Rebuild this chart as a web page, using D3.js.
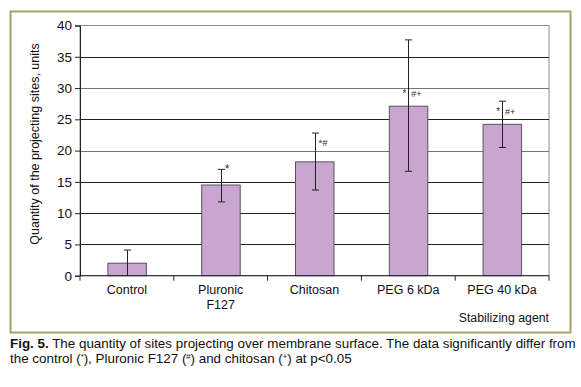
<!DOCTYPE html>
<html>
<head>
<meta charset="utf-8">
<script src="https://cdn.jsdelivr.net/npm/d3@7.9.0/dist/d3.min.js"></script>
<style>
  body { margin: 0; background: #fff; }
  svg { display: block; font-family: "Liberation Sans", Arial, sans-serif; }
</style>
</head>
<body>
<svg id="chart" width="581" height="387"></svg>
<script>
const categories = [["Control"], ["Pluronic", "F127"], ["Chitosan"], ["PEG 6 kDa"], ["PEG 40 kDa"]];
const values = [2.0, 14.5, 18.2, 27.1, 24.2];
const errLow = [2.1, 2.7, 4.5, 10.4, 3.7];
const errHigh = [2.1, 2.5, 4.6, 10.6, 3.7];
const marks = [["", ""], ["*", ""], ["*#", ""], ["*", "#+"], ["*", "#+"]];
const yTicks = [0, 5, 10, 15, 20, 25, 30, 35, 40];

const svg = d3.select('#chart');
const plot = { left: 80, right: 549, top: 25.5, bottom: 275.7 };

// outer frame
svg.append('rect')
    .attr('x', 10.5).attr('y', 11.5)
    .attr('width', 560).attr('height', 321)
    .attr('fill', 'none')
    .attr('stroke', '#a89f68')
    .attr('stroke-width', 2);

const step = (plot.right - plot.left) / categories.length;

const y = d3.scaleLinear()
    .domain([0, 40])
    .range([plot.bottom, plot.top]);

// plot border (top/right grey)
svg.append('rect')
    .attr('x', plot.left).attr('y', plot.top)
    .attr('width', plot.right - plot.left).attr('height', plot.bottom - plot.top)
    .attr('fill', 'none').attr('stroke', '#8a8a8a').attr('stroke-width', 1);

// gridlines
svg.append('g')
    .selectAll('line')
    .data(yTicks.filter(t => t > 0 && t < 40))
    .join('line')
    .attr('x1', plot.left).attr('x2', plot.right)
    .attr('y1', d => Math.round(y(d)) + 0.5).attr('y2', d => Math.round(y(d)) + 0.5)
    .attr('stroke', d => (d === 20 || d === 30) ? '#777' : '#222')
    .attr('stroke-width', 1);

// y axis
const yAxis = svg.append('g')
    .attr('transform', `translate(${plot.left},0)`)
    .call(d3.axisLeft(y).tickValues(yTicks).tickSize(5).tickPadding(3));
yAxis.select('.domain').attr('stroke', '#222');
yAxis.selectAll('.tick line').attr('stroke', '#222');
yAxis.selectAll('.tick text')
    .attr('font-size', 13.5).attr('fill', '#111')
    .attr('font-family', '"Liberation Sans", Arial, sans-serif');

// bars
svg.append('g')
    .selectAll('rect')
    .data(values)
    .join('rect')
    .attr('x', (d, i) => plot.left + step * (i + 0.5) - 19)
    .attr('y', d => y(d))
    .attr('width', 38.5)
    .attr('height', d => y(0) - y(d))
    .attr('fill', '#c9a6cf')
    .attr('stroke', '#5a5060')
    .attr('stroke-width', 1);

// x axis
svg.append('line')
    .attr('x1', plot.left).attr('x2', plot.right)
    .attr('y1', plot.bottom).attr('y2', plot.bottom)
    .attr('stroke', '#222');
svg.append('g')
    .selectAll('line')
    .data(d3.range(categories.length + 1))
    .join('line')
    .attr('x1', i => plot.left + step * i).attr('x2', i => plot.left + step * i)
    .attr('y1', plot.bottom).attr('y2', plot.bottom + 5)
    .attr('stroke', '#222');

const xLabels = svg.append('g')
    .selectAll('text')
    .data(categories)
    .join('text')
    .attr('x', (d, i) => plot.left + step * (i + 0.5))
    .attr('y', 294)
    .attr('text-anchor', 'middle')
    .attr('font-size', 12.5)
    .attr('fill', '#111');
xLabels.each(function (d, i) {
    d3.select(this).selectAll('tspan')
        .data(d)
        .join('tspan')
        .attr('x', plot.left + step * (i + 0.5))
        .attr('dy', (t, j) => j === 0 ? 0 : 15)
        .text(t => t);
});

// error bars
const eb = svg.append('g').attr('stroke', '#222').attr('stroke-width', 1);
values.forEach((v, i) => {
    const cx = Math.round(plot.left + step * (i + 0.5)) + 0.5;
    const lo = Math.max(0, v - errLow[i]);
    const hi = v + errHigh[i];
    eb.append('line').attr('x1', cx).attr('x2', cx).attr('y1', y(lo)).attr('y2', y(hi));
    eb.append('line').attr('x1', cx - 3.5).attr('x2', cx + 3.5).attr('y1', y(hi)).attr('y2', y(hi));
    if (v - errLow[i] > 0) {
        eb.append('line').attr('x1', cx - 3.5).attr('x2', cx + 3.5).attr('y1', y(lo)).attr('y2', y(lo));
    }
});

// significance marks
values.forEach((v, i) => {
    const cx = plot.left + step * (i + 0.5);
    const hi = v + errHigh[i];
    const [left, right] = marks[i];
    let ty;
    if (i === 1) ty = y(hi) + 4;
    else if (i === 2) ty = y(v) - 16;
    else ty = y(v) - 9;
    if (i === 1 || i === 2) {
        svg.append('text').attr('x', cx + 4).attr('y', ty)
            .attr('font-size', i === 1 ? 12 : 9.5).attr('fill', '#333').text(left);
    } else if (left) {
        svg.append('text').attr('x', cx - 2).attr('y', ty).attr('text-anchor', 'end')
            .attr('font-size', 10).attr('fill', '#333').text(left);
        svg.append('text').attr('x', cx + 3).attr('y', ty)
            .attr('font-size', 9).attr('fill', '#333').text(right);
    }
});

// axis titles
svg.append('text')
    .attr('transform', 'translate(39,144) rotate(-90)')
    .attr('text-anchor', 'middle')
    .attr('font-size', 12.5)
    .attr('fill', '#111')
    .text('Quantity of the projecting sites, units');

svg.append('text')
    .attr('x', 549).attr('y', 322)
    .attr('text-anchor', 'end')
    .attr('font-size', 12.3)
    .attr('fill', '#111')
    .text('Stabilizing agent');

// caption
const cap1 = svg.append('text').attr('x', 10).attr('y', 348).attr('font-size', 13.4).attr('fill', '#111');
cap1.append('tspan').attr('font-weight', 'bold').text('Fig. 5.');
cap1.append('tspan').text(' The quantity of sites projecting over membrane surface. The data significantly differ from');

const cap2 = svg.append('text').attr('x', 10).attr('y', 363).attr('font-size', 13.4).attr('fill', '#111');
cap2.append('tspan').text('the control (');
cap2.append('tspan').attr('font-size', 7.5).attr('dy', -4).text('*');
cap2.append('tspan').attr('dy', 4).text('), Pluronic F127 (');
cap2.append('tspan').attr('font-size', 7.5).attr('dy', -4).text('#');
cap2.append('tspan').attr('dy', 4).text(') and chitosan (');
cap2.append('tspan').attr('font-size', 7.5).attr('dy', -4).text('+');
cap2.append('tspan').attr('dy', 4).text(') at p<0.05');
</script>
</body>
</html>
